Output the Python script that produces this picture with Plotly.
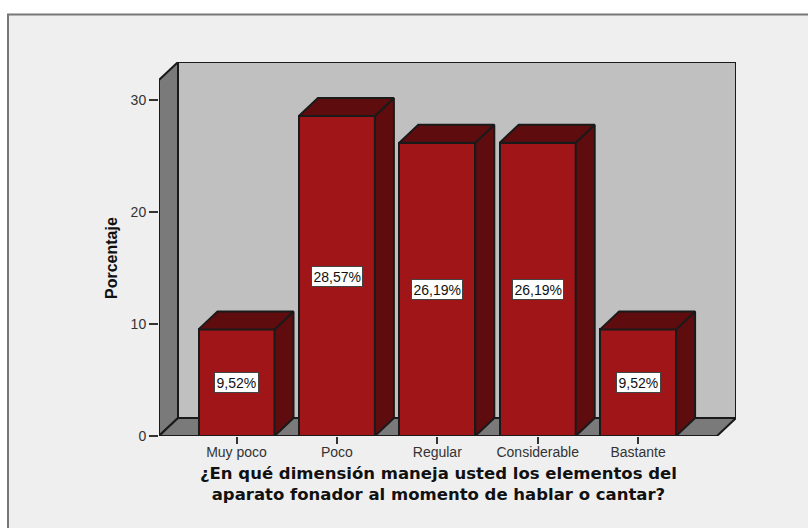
import plotly.graph_objects as go

categories = ["Muy poco", "Poco", "Regular", "Considerable", "Bastante"]
values = [9.52, 28.57, 26.19, 26.19, 9.52]
y_ticks = [0, 10, 20, 30]
x_title = "¿En qué dimensión maneja usted los elementos del<br>aparato fonador al momento de hablar o cantar?"
y_title = "Porcentaje"

W, H = 808, 528
PX_L, PX_R, PX_T, PX_B = 159, 736, 62, 436   # plot box in pixels, including the depth
X_UNIT = 100.4    # pixels per category
Y_UNIT = 11.2     # pixels per percent
X0_PX = 236.5     # pixel of first category centre
BAR_W = 76 / X_UNIT
DX = 19 / X_UNIT  # depth offset in data units
DY = 18 / Y_UNIT

x_min = (PX_L - X0_PX) / X_UNIT
x_max = (PX_R - X0_PX) / X_UNIT
y_max = (PX_B - PX_T) / Y_UNIT
x_front_r = x_max - DX
y_front_t = y_max - DY

FRONT, DARK = "#9f1518", "#5f0c0f"
WALL, SIDE = "#c0c0c0", "#7a7a7a"
EDGE = "#1a1a1a"
BG = "#efefef"
LW = 2

xs = list(range(len(categories)))
fig = go.Figure()

# Side and top faces of each bar, derived from the values
for x, v in zip(xs, values):
    l, r = x - BAR_W / 2, x + BAR_W / 2
    fig.add_trace(go.Scatter(
        x=[r, r + DX, r + DX, r, r], y=[0, DY, v + DY, v, 0],
        mode="lines", fill="toself", fillcolor=DARK,
        line=dict(color=EDGE, width=LW), hoverinfo="skip", showlegend=False))
    fig.add_trace(go.Scatter(
        x=[l, l + DX, r + DX, r, l], y=[v, v + DY, v + DY, v, v],
        mode="lines", fill="toself", fillcolor=DARK,
        line=dict(color=EDGE, width=LW), hoverinfo="skip", showlegend=False))

# Front faces
fig.add_trace(go.Bar(
    x=xs, y=values, width=BAR_W, marker=dict(color=FRONT, line=dict(color=EDGE, width=LW)),
    showlegend=False))


def poly(pts, fill):
    path = "M " + " L ".join(f"{a},{b}" for a, b in pts) + " Z"
    return dict(type="path", path=path, xref="x", yref="y", layer="below",
                fillcolor=fill, line=dict(color=EDGE, width=LW))


shapes = [
    # outer frame of the chart
    dict(type="rect", xref="paper", yref="paper", layer="below",
         x0=8 / W, x1=1.02, y0=-0.02, y1=1 - 14.5 / H,
         fillcolor=BG, line=dict(color="#777777", width=2)),
    poly([(x_min + DX, DY), (x_max, DY), (x_max, y_max), (x_min + DX, y_max)], WALL),
    poly([(x_min, 0), (x_min + DX, DY), (x_min + DX, y_max), (x_min, y_front_t)], SIDE),
    poly([(x_min, 0), (x_front_r, 0), (x_max, DY), (x_min + DX, DY)], SIDE),
]

annotations = [
    dict(x=x, y=v / 2, xref="x", yref="y", showarrow=False,
         text=f"{v:.2f}%".replace(".", ","),
         font=dict(family="Liberation Sans", size=14, color="#111111"),
         bgcolor="#ffffff", bordercolor="#444444", borderwidth=1, borderpad=1.5)
    for x, v in zip(xs, values)
]
annotations.append(dict(
    x=438 / W, y=1 - 483.5 / H, xref="paper", yref="paper", showarrow=False,
    xanchor="center", yanchor="middle", text=x_title, align="center",
    font=dict(family="DejaVu Sans", size=16.5, color="#111111", weight="bold")))
annotations.append(dict(
    x=111.5 / W, y=1 - 258.5 / H, xref="paper", yref="paper", showarrow=False,
    xanchor="center", yanchor="middle", text=y_title, textangle=-90,
    font=dict(family="Liberation Sans", size=16, color="#111111", weight="bold")))

fig.update_layout(
    width=W, height=H, margin=dict(l=0, r=0, t=0, b=0, pad=0, autoexpand=False),
    paper_bgcolor="#ffffff", plot_bgcolor="rgba(0,0,0,0)",
    bargap=0, shapes=shapes, annotations=annotations,
    xaxis=dict(domain=[PX_L / W, PX_R / W], range=[x_min, x_max],
               tickvals=xs, ticktext=categories, ticks="outside", ticklen=7, tickwidth=1.5,
               ticklabelstandoff=-4,
               tickcolor="#333333", showgrid=False, zeroline=False, showline=False,
               tickfont=dict(family="Liberation Sans", size=14, color="#333333")),
    yaxis=dict(domain=[1 - PX_B / H, 1 - PX_T / H], range=[0, y_max],
               tickvals=y_ticks, ticks="outside", ticklen=9, tickwidth=1.5,
               tickcolor="#333333", showgrid=False, zeroline=False, showline=False,
               tickfont=dict(family="Liberation Sans", size=14, color="#333333")),
)

fig.write_html("out.html", config=dict(displayModeBar=False),
               post_script="document.body.style.margin='0';document.body.style.overflow='hidden';")
